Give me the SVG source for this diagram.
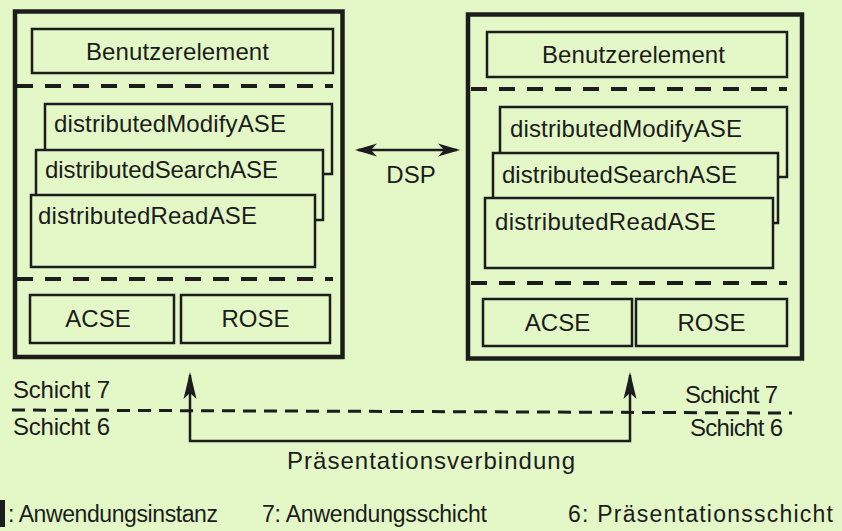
<svg xmlns="http://www.w3.org/2000/svg" width="842" height="531" viewBox="0 0 842 531">
<style>
text{font-family:"Liberation Sans",Arial,Helvetica,sans-serif;font-size:24px;fill:#1c1c1c}
.mid{text-anchor:middle}
.leg{font-size:23px}
.outer{fill:none;stroke:#1c1c1c;stroke-width:4.5}
.box{fill:#e3f7c7;stroke:#1c1c1c;stroke-width:2.5}
.dash{fill:none;stroke:#1c1c1c;stroke-width:4;stroke-dasharray:16 12}
.ldash{fill:none;stroke:#1c1c1c;stroke-width:3;stroke-dasharray:13 8}
.conn{fill:none;stroke:#1c1c1c;stroke-width:2.5}
</style>
<defs>
<marker id="hd" viewBox="-23 -8 26 16" markerWidth="26" markerHeight="16" refX="-3" refY="0" orient="auto-start-reverse" markerUnits="userSpaceOnUse">
<path d="M0,0 L-22,-6.5 L-16,0 L-22,6.5 Z" fill="#1c1c1c"/>
</marker>
<marker id="hv" viewBox="-29 -8 32 16" markerWidth="32" markerHeight="16" refX="-3" refY="0" orient="auto-start-reverse" markerUnits="userSpaceOnUse">
<path d="M0,0 L-27,-6.5 L-21,0 L-27,6.5 Z" fill="#1c1c1c"/>
</marker>
</defs>
<rect width="842" height="531" fill="#e3f7c7"/>

<g id="left-instance">
<rect class="outer" x="15" y="11.5" width="327.5" height="345.5"/>
<g id="left-benutzer"><rect class="box" x="32" y="29" width="301" height="44"/><text x="86" y="60" textLength="183">Benutzerelement</text></g>
<path class="dash" d="M17,86 H333"/>
<g id="left-modify"><rect class="box" x="45" y="104" width="287" height="70"/><text x="54" y="132" textLength="232">distributedModifyASE</text></g>
<g id="left-search"><rect class="box" x="36" y="150" width="287" height="70"/><text x="45" y="178" textLength="233">distributedSearchASE</text></g>
<g id="left-read"><rect class="box" x="31" y="195" width="284" height="72"/><text x="38" y="224" textLength="219">distributedReadASE</text></g>
<path class="dash" d="M17,279 H333"/>
<g id="left-acse"><rect class="box" x="30" y="295" width="144" height="48"/><text class="mid" x="98" y="327">ACSE</text></g>
<g id="left-rose"><rect class="box" x="181" y="295" width="149" height="48"/><text class="mid" x="255.5" y="327">ROSE</text></g>
</g>

<g id="right-instance">
<rect class="outer" x="468" y="14.5" width="334" height="344"/>
<g id="right-benutzer"><rect class="box" x="487" y="32" width="300" height="45"/><text x="542" y="63" textLength="183">Benutzerelement</text></g>
<path class="dash" d="M471,89 H787"/>
<g id="right-modify"><rect class="box" x="500" y="107" width="287" height="70"/><text x="510" y="137" textLength="232">distributedModifyASE</text></g>
<g id="right-search"><rect class="box" x="493" y="153" width="285" height="70"/><text x="502" y="183" textLength="235">distributedSearchASE</text></g>
<g id="right-read"><rect class="box" x="485" y="198" width="288" height="70"/><text x="495" y="230" textLength="221">distributedReadASE</text></g>
<path class="dash" d="M471,283 H787"/>
<g id="right-acse"><rect class="box" x="483" y="299" width="149" height="47"/><text class="mid" x="557.5" y="331">ACSE</text></g>
<g id="right-rose"><rect class="box" x="636" y="299" width="151" height="47"/><text class="mid" x="711.5" y="331">ROSE</text></g>
</g>

<g id="layers">
<path class="ldash" d="M12,410 L792,413"/>
<text x="13" y="398" textLength="97">Schicht 7</text>
<text x="13" y="435" textLength="97">Schicht 6</text>
<text x="685" y="403" textLength="93">Schicht 7</text>
<text x="690" y="436" textLength="93">Schicht 6</text>
</g>

<g id="connectors">
<path class="conn" d="M358,150 H457" marker-start="url(#hd)" marker-end="url(#hd)"/>
<text class="mid" x="411" y="183">DSP</text>
<path class="conn" d="M190,375 V441 H630 V375" marker-start="url(#hv)" marker-end="url(#hv)"/>
<text x="287" y="469" textLength="288">Präsentationsverbindung</text>
</g>

<g id="legend">
<rect x="0" y="500" width="5" height="27" fill="#1c1c1c"/>
<text class="leg" x="8" y="522" textLength="210">: Anwendungsinstanz</text>
<text class="leg" x="262" y="522" textLength="225">7: Anwendungsschicht</text>
<text class="leg" x="568" y="522" textLength="265">6: Präsentationsschicht</text>
</g>
</svg>
